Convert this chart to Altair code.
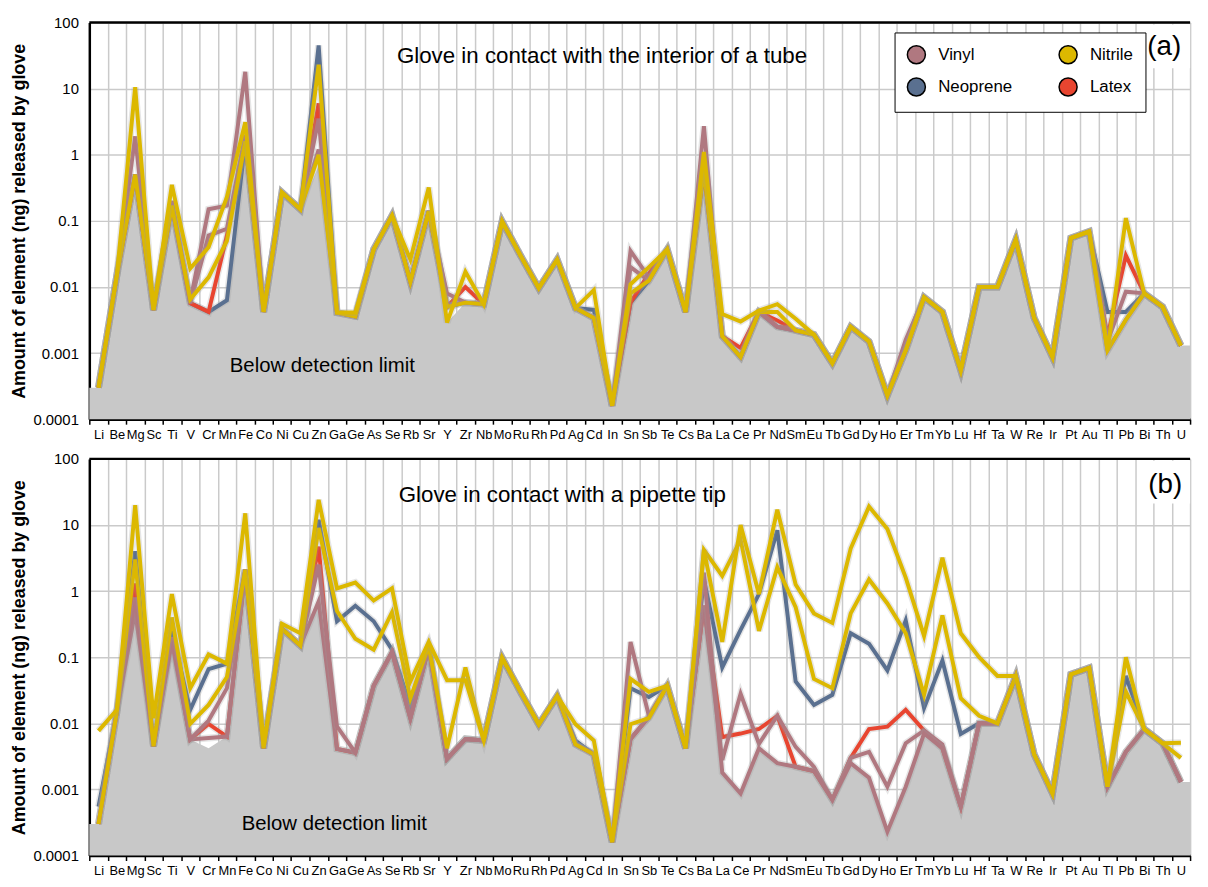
import altair as alt
import pandas as pd

ELEMENTS = ["Li", "Be", "Mg", "Sc", "Ti", "V", "Cr", "Mn", "Fe", "Co",
            "Ni", "Cu", "Zn", "Ga", "Ge", "As", "Se", "Rb", "Sr", "Y",
            "Zr", "Nb", "Mo", "Ru", "Rh", "Pd", "Ag", "Cd", "In", "Sn",
            "Sb", "Te", "Cs", "Ba", "La", "Ce", "Pr", "Nd", "Sm", "Eu",
            "Tb", "Gd", "Dy", "Ho", "Er", "Tm", "Yb", "Lu", "Hf", "Ta",
            "W", "Re", "Ir", "Pt", "Au", "Tl", "Pb", "Bi", "Th", "U"]

# detection limit (grey area)
DL = [0.0003, 0.015, 0.5, 0.0045, 0.17, 0.0057, 0.0042, 0.0063, 1.4, 0.0042,
      0.27, 0.15, 0.68, 0.0041, 0.0036, 0.037, 0.12, 0.012, 0.14, 0.0029,
      0.0058, 0.0055, 0.098, 0.03, 0.0096, 0.026, 0.0048, 0.0034, 0.00016, 0.0058,
      0.0125, 0.037, 0.0042, 0.6, 0.0018, 0.00087, 0.0042, 0.0025, 0.0022, 0.0019,
      0.0007, 0.0025, 0.0015, 0.00023, 0.0011, 0.007, 0.0042, 0.00055, 0.01, 0.01,
      0.052, 0.0034, 0.00087, 0.055, 0.069, 0.0011, 0.0032, 0.008, 0.005, 0.0013]
AXIS_FLOOR = 0.0001

# ---- panel (a): glove in contact with the interior of a tube ----
A_VINYL_1 = [0.0003, 0.015, 1.9, 0.0045, 0.2, 0.006, 0.15, 0.17, 18, 0.0042,
             0.27, 0.15, 3.5, 0.0041, 0.0036, 0.037, 0.12, 0.012, 0.14, 0.008,
             0.0058, 0.0055, 0.098, 0.03, 0.0096, 0.026, 0.0048, 0.0034, 0.00016, 0.035,
             0.014, 0.037, 0.0042, 2.7, 0.0018, 0.00087, 0.0042, 0.0025, 0.0022, 0.0019,
             0.0007, 0.0025, 0.0015, 0.00023, 0.0016, 0.007, 0.0042, 0.00055, 0.01, 0.01,
             0.052, 0.0034, 0.00087, 0.055, 0.069, 0.0015, 0.0085, 0.008, 0.005, 0.0013]
A_VINYL_2 = [0.0003, 0.015, 0.5, 0.0045, 0.17, 0.0057, 0.06, 0.076, 2.0, 0.0042,
             0.27, 0.15, 1.2, 0.0041, 0.0036, 0.037, 0.12, 0.012, 0.14, 0.0055,
             0.0058, 0.0055, 0.098, 0.03, 0.0096, 0.026, 0.0048, 0.0034, 0.00016, 0.02,
             0.0125, 0.037, 0.0042, 0.7, 0.0018, 0.00087, 0.0042, 0.0025, 0.0022, 0.0019,
             0.0007, 0.0025, 0.0015, 0.00023, 0.0011, 0.007, 0.0042, 0.00055, 0.01, 0.01,
             0.052, 0.0034, 0.00087, 0.055, 0.069, 0.0011, 0.0032, 0.008, 0.005, 0.0013]
A_NEOPRENE = [0.0003, 0.015, 0.5, 0.0045, 0.17, 0.0057, 0.0042, 0.0063, 1.6, 0.0042,
              0.27, 0.15, 45, 0.0041, 0.0036, 0.037, 0.12, 0.012, 0.14, 0.005,
              0.0058, 0.0055, 0.098, 0.03, 0.0096, 0.026, 0.0048, 0.0045, 0.00016, 0.0058,
              0.0125, 0.037, 0.0042, 0.6, 0.0018, 0.00087, 0.0042, 0.0025, 0.0022, 0.0019,
              0.0007, 0.0025, 0.0015, 0.00023, 0.0011, 0.007, 0.0042, 0.00055, 0.01, 0.01,
              0.052, 0.0034, 0.00087, 0.055, 0.069, 0.0042, 0.0042, 0.008, 0.005, 0.0013]
A_LATEX = [0.0003, 0.015, 0.5, 0.0045, 0.17, 0.0057, 0.0042, 0.06, 1.6, 0.0042,
           0.27, 0.15, 6, 0.0041, 0.0036, 0.037, 0.12, 0.012, 0.14, 0.005,
           0.01, 0.0055, 0.098, 0.03, 0.0096, 0.026, 0.0048, 0.0034, 0.00016, 0.0058,
           0.016, 0.037, 0.0042, 0.6, 0.0018, 0.0012, 0.0042, 0.0031, 0.0022, 0.0019,
           0.0007, 0.0025, 0.0015, 0.00023, 0.0011, 0.007, 0.0042, 0.00055, 0.01, 0.01,
           0.052, 0.0034, 0.00087, 0.055, 0.069, 0.0018, 0.03, 0.008, 0.005, 0.0013]
A_NITRILE_1 = [0.0003, 0.015, 10.5, 0.0045, 0.35, 0.019, 0.04, 0.23, 3.1, 0.0042,
               0.27, 0.15, 23, 0.0041, 0.0041, 0.037, 0.12, 0.026, 0.32, 0.0029,
               0.017, 0.0055, 0.098, 0.03, 0.0096, 0.026, 0.0048, 0.009, 0.00016, 0.011,
               0.02, 0.037, 0.0042, 1.1, 0.0039, 0.003, 0.0044, 0.0055, 0.0033, 0.0019,
               0.0007, 0.0025, 0.0015, 0.00023, 0.0011, 0.007, 0.0042, 0.00055, 0.01, 0.01,
               0.052, 0.0034, 0.00087, 0.055, 0.069, 0.0011, 0.11, 0.008, 0.005, 0.0013]
A_NITRILE_2 = [0.0003, 0.015, 0.5, 0.0045, 0.17, 0.0065, 0.014, 0.05, 1.6, 0.0042,
               0.27, 0.15, 1.0, 0.0041, 0.0036, 0.037, 0.12, 0.012, 0.14, 0.005,
               0.0058, 0.0055, 0.098, 0.03, 0.0096, 0.026, 0.0048, 0.0034, 0.00016, 0.008,
               0.0125, 0.037, 0.0042, 0.6, 0.0018, 0.00087, 0.0042, 0.0042, 0.0022, 0.0019,
               0.0007, 0.0025, 0.0015, 0.00023, 0.0011, 0.007, 0.0042, 0.00055, 0.01, 0.01,
               0.052, 0.0034, 0.00087, 0.055, 0.069, 0.0011, 0.0032, 0.008, 0.005, 0.0013]

# ---- panel (b): glove in contact with a pipette tip ----
B_VINYL_1 = [0.0003, 0.015, 0.8, 0.0045, 0.2, 0.0057, 0.011, 0.034, 2.1, 0.0042,
             0.27, 0.15, 2.5, 0.009, 0.0036, 0.037, 0.12, 0.012, 0.14, 0.0029,
             0.0058, 0.0055, 0.098, 0.03, 0.0096, 0.026, 0.0048, 0.0034, 0.00016, 0.17,
             0.013, 0.037, 0.0042, 1.9, 0.0018, 0.00087, 0.0042, 0.0025, 0.0022, 0.0019,
             0.0007, 0.0025, 0.0015, 0.00023, 0.0011, 0.007, 0.0042, 0.00055, 0.01, 0.01,
             0.052, 0.0034, 0.00087, 0.055, 0.069, 0.0011, 0.0037, 0.0082, 0.005, 0.0013]
B_VINYL_2 = [0.0003, 0.015, 0.5, 0.0045, 0.17, 0.0057, 0.006, 0.0063, 2.1, 0.0042,
             0.27, 0.15, 0.7, 0.0041, 0.0036, 0.037, 0.12, 0.012, 0.14, 0.0029,
             0.0058, 0.0055, 0.098, 0.03, 0.0096, 0.026, 0.0048, 0.0034, 0.00016, 0.0058,
             0.0125, 0.037, 0.0042, 0.6, 0.0028, 0.028, 0.0049, 0.013, 0.0044, 0.0022,
             0.0007, 0.003, 0.0037, 0.0011, 0.005, 0.0078, 0.0048, 0.00055, 0.01, 0.01,
             0.052, 0.0034, 0.00087, 0.055, 0.069, 0.0011, 0.0037, 0.0082, 0.005, 0.0013]
B_NEOPRENE = [0.00055, 0.015, 4, 0.0045, 0.25, 0.016, 0.066, 0.08, 2.1, 0.0042,
              0.27, 0.15, 12, 0.35, 0.6, 0.35, 0.13, 0.018, 0.15, 0.0029,
              0.0058, 0.0055, 0.098, 0.03, 0.0096, 0.026, 0.0055, 0.0034, 0.00016, 0.034,
              0.025, 0.037, 0.0042, 1.5, 0.07, 0.26, 0.9, 8.3, 0.043, 0.019,
              0.027, 0.23, 0.16, 0.063, 0.36, 0.017, 0.089, 0.0069, 0.01, 0.01,
              0.052, 0.0034, 0.00087, 0.055, 0.069, 0.0011, 0.052, 0.0082, 0.005, 0.0013]
B_LATEX = [0.0003, 0.015, 1.3, 0.0045, 0.2, 0.0057, 0.0098, 0.0063, 2.1, 0.0042,
           0.27, 0.15, 4.7, 0.0041, 0.0036, 0.037, 0.12, 0.012, 0.14, 0.0029,
           0.0058, 0.0055, 0.098, 0.03, 0.0096, 0.026, 0.0048, 0.0034, 0.00016, 0.0058,
           0.0125, 0.037, 0.0042, 0.6, 0.0062, 0.007, 0.0082, 0.013, 0.0022, 0.0019,
           0.0007, 0.003, 0.0082, 0.0089, 0.016, 0.0078, 0.0042, 0.00055, 0.01, 0.01,
           0.052, 0.0034, 0.00087, 0.055, 0.069, 0.0011, 0.0037, 0.0082, 0.005, 0.0013]
B_NITRILE_1 = [0.0077, 0.016, 20, 0.012, 0.9, 0.034, 0.11, 0.08, 15, 0.0045,
               0.32, 0.23, 24, 1.1, 1.35, 0.72, 1.1, 0.043, 0.17, 0.045,
               0.045, 0.0055, 0.098, 0.03, 0.0096, 0.026, 0.0097, 0.0055, 0.00016, 0.047,
               0.03, 0.037, 0.0042, 4.2, 0.17, 10, 0.9, 17, 1.26, 0.46,
               0.33, 4.4, 19, 8.7, 1.6, 0.21, 3.2, 0.23, 0.1, 0.052,
               0.052, 0.0034, 0.00087, 0.055, 0.069, 0.0011, 0.1, 0.0082, 0.005, 0.0051]
B_NITRILE_2 = [0.0003, 0.015, 3, 0.0045, 0.4, 0.0098, 0.019, 0.05, 2.1, 0.0042,
               0.27, 0.15, 9, 0.5, 0.19, 0.13, 0.48, 0.024, 0.15, 0.0042,
               0.07, 0.0055, 0.098, 0.03, 0.0096, 0.026, 0.0048, 0.0034, 0.00016, 0.0097,
               0.012, 0.037, 0.0042, 4.2, 1.7, 6, 0.25, 2.3, 0.57, 0.047,
               0.034, 0.46, 1.5, 0.65, 0.23, 0.027, 0.43, 0.024, 0.013, 0.01,
               0.052, 0.0034, 0.00087, 0.055, 0.069, 0.0011, 0.03, 0.0082, 0.005, 0.003]

GLOVES = ["Vinyl", "Neoprene", "Nitrile", "Latex"]
GLOVE_COLORS = ["#b07880", "#5a7090", "#dcb800", "#e84530"]
COLOR = dict(zip(GLOVES, GLOVE_COLORS))

W = 1110
H = 400
BAND = W / 60
SANS = "Liberation Sans, Arial, sans-serif"

xscale = alt.Scale(domain=[-0.5, 59.5], nice=False, zero=False)
yscale = alt.Scale(type="log", domain=[AXIS_FLOOR, 100], nice=False)

names = ",".join("'" + e + "'" for e in ELEMENTS)
label_expr = "datum.value < 59 ? [" + names + "][round(datum.value + 0.5)] : ''"

xaxis = alt.Axis(values=[i - 0.5 for i in range(61)], labelExpr=label_expr,
                 labelOffset=BAND / 2, labelOverlap=False, labelFlush=False,
                 grid=True, gridColor="#cacaca", gridWidth=1.5,
                 ticks=True, tickSize=5, tickColor="black", tickWidth=1.5,
                 domainColor="black", domainWidth=2.5,
                 labelFont=SANS, labelFontSize=13, labelColor="black",
                 labelPadding=4, title=None)
yaxis = alt.Axis(values=[0.0001, 0.001, 0.01, 0.1, 1, 10, 100], format=".4~f",
                 grid=True, gridColor="#cacaca", gridWidth=1.5, ticks=False,
                 domainColor="black", domainWidth=2.5,
                 labelFont=SANS, labelFontSize=15, labelColor="black", labelPadding=11,
                 title="Amount of element (ng) released by glove",
                 titleFont=SANS, titleFontWeight="bold", titleFontSize=18,
                 titleColor="black", titlePadding=5, minExtent=56, maxExtent=56)


def text_layer(txt, x, y, size):
    return alt.Chart(pd.DataFrame({"t": [txt]})).mark_text(
        font=SANS, fontSize=size, color="black", align="center", baseline="middle"
    ).encode(x=alt.value(x), y=alt.value(y), text="t:N")


def panel(series, title, tag, title_xy, tag_xy, below_xy, box_x, box_y2, legend):
    x_enc = alt.X("idx:Q", scale=xscale, axis=xaxis)
    layers = []
    layers.append(alt.Chart(pd.DataFrame({"k": [0]})).mark_rect(color="white").encode(
        x=alt.value(box_x), x2=alt.value(W), y=alt.value(2), y2=alt.value(box_y2)))
    n = len(DL) + 2
    area_df = pd.DataFrame({"idx": [-0.5] + list(range(len(DL))) + [len(DL) - 0.5],
                            "v": [DL[0]] + DL + [DL[-1]],
                            "base": [AXIS_FLOOR] * n})
    layers.append(alt.Chart(area_df).mark_area(color="#c8c8c8", opacity=1).encode(
        x=x_enc, y=alt.Y("v:Q", scale=yscale, axis=yaxis), y2="base:Q"))
    for glove, vals in series:
        df = pd.DataFrame({"idx": list(range(60)), "v": vals})
        layers.append(alt.Chart(df).mark_line(color="#9a9a9a", strokeWidth=7, opacity=0.25).encode(
            x=x_enc, y=alt.Y("v:Q", scale=yscale, axis=yaxis)))
        layers.append(alt.Chart(df).mark_line(color=COLOR[glove], strokeWidth=4).encode(
            x=x_enc, y=alt.Y("v:Q", scale=yscale, axis=yaxis)))
    layers.append(alt.Chart(pd.DataFrame({"k": [0]})).mark_rule(color="black", strokeWidth=2.5).encode(
        x=alt.value(0), x2=alt.value(W), y=alt.value(0)))
    layers.append(text_layer(title, title_xy[0], title_xy[1], 22.5))
    layers.append(text_layer(tag, tag_xy[0], tag_xy[1], 28))
    layers.append(text_layer("Below detection limit", below_xy[0], below_xy[1], 20.5))
    if legend:
        leg = alt.Legend(title=None, orient="none", legendX=812, legendY=10, columns=2,
                         symbolType="circle", symbolSize=330, symbolStrokeColor="black",
                         symbolStrokeWidth=1.5, symbolOpacity=1,
                         labelFont=SANS, labelFontSize=17, labelColor="black", labelOffset=12,
                         rowPadding=7, columnPadding=43, padding=12,
                         strokeColor="black", fillColor="white")
        layers.append(alt.Chart(pd.DataFrame({"glove": GLOVES})).mark_point(
            filled=True, opacity=0, size=1).encode(
            x=alt.value(0), y=alt.value(0),
            fill=alt.Fill("glove:N", sort=GLOVES,
                          scale=alt.Scale(domain=GLOVES, range=GLOVE_COLORS), legend=leg)))
    return alt.layer(*layers).properties(width=W, height=H)


series_a = [("Neoprene", A_NEOPRENE), ("Latex", A_LATEX), ("Vinyl", A_VINYL_2),
            ("Vinyl", A_VINYL_1), ("Nitrile", A_NITRILE_2), ("Nitrile", A_NITRILE_1)]
series_b = [("Neoprene", B_NEOPRENE), ("Latex", B_LATEX), ("Vinyl", B_VINYL_2),
            ("Vinyl", B_VINYL_1), ("Nitrile", B_NITRILE_2), ("Nitrile", B_NITRILE_1)]

pa = panel(series_a, "Glove in contact with the interior of a tube", "(a)",
           (517, 34), (1084, 25), (235, 346), 1062, 46, True)
pb = panel(series_b, "Glove in contact with a pipette tip", "(b)",
           (477, 36), (1085, 26), (247, 368), 1065, 45, False)

chart = alt.vconcat(pa, pb, spacing=9).resolve_legend(fill="independent").properties(
    padding={"left": 2, "top": 3, "right": 0, "bottom": 0}
).configure_view(stroke=None).configure(background="white")

chart.save("out.html", embed_options={"renderer": "svg", "actions": False})
